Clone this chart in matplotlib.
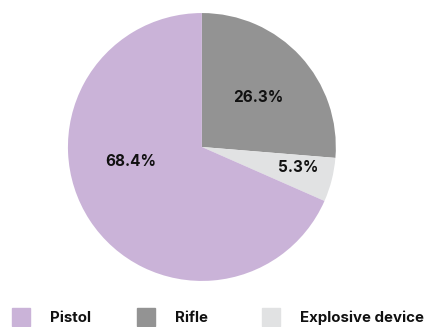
import matplotlib.pyplot as plt
from matplotlib.patches import Rectangle

# data
labels = ['Pistol', 'Rifle', 'Explosive device']
shares = [68.4, 26.3, 5.3]
colors = ['#cab3d8', '#939393', '#e1e2e3']

# draw order clockwise from top: Rifle, Explosive, Pistol
order = [1, 2, 0]

plt.rcParams['font.family'] = ['Inter', 'DejaVu Sans']

fig = plt.figure(figsize=(4.30, 3.27), dpi=100)
ax = fig.add_axes([0.158, 0.1407, 0.623, 0.8196])

wedges, _ = ax.pie([shares[i] for i in order],
                   colors=[colors[i] for i in order],
                   startangle=90, counterclock=False, radius=1,
                   wedgeprops=dict(linewidth=0))
ax.set_xlim(-1, 1)
ax.set_ylim(-1, 1)
ax.set_aspect('equal')

# label spots (data units) for Pistol, Rifle, Explosive
label_pos = [(-0.53, -0.11), (0.42, 0.37), (0.72, -0.155)]
for i, v in enumerate(shares):
    ax.text(label_pos[i][0], label_pos[i][1], f'{v:.1f}%',
            ha='center', va='center', fontsize=11, fontweight='bold',
            color='#111111')

# legend along the bottom
sq_x = [12, 137, 262]
for i, lab in enumerate(labels):
    x0 = sq_x[i] / 430
    fig.patches.append(Rectangle((x0, 1 - 326 / 327), 18 / 430, 18 / 327,
                                 transform=fig.transFigure,
                                 color=colors[i], figure=fig))
    fig.text(x0 + 38 / 430, 1 - 318 / 327, lab, ha='left', va='center',
             fontsize=10.8, fontweight='bold', color='#111111')

fig.savefig('out.png', dpi=100)
